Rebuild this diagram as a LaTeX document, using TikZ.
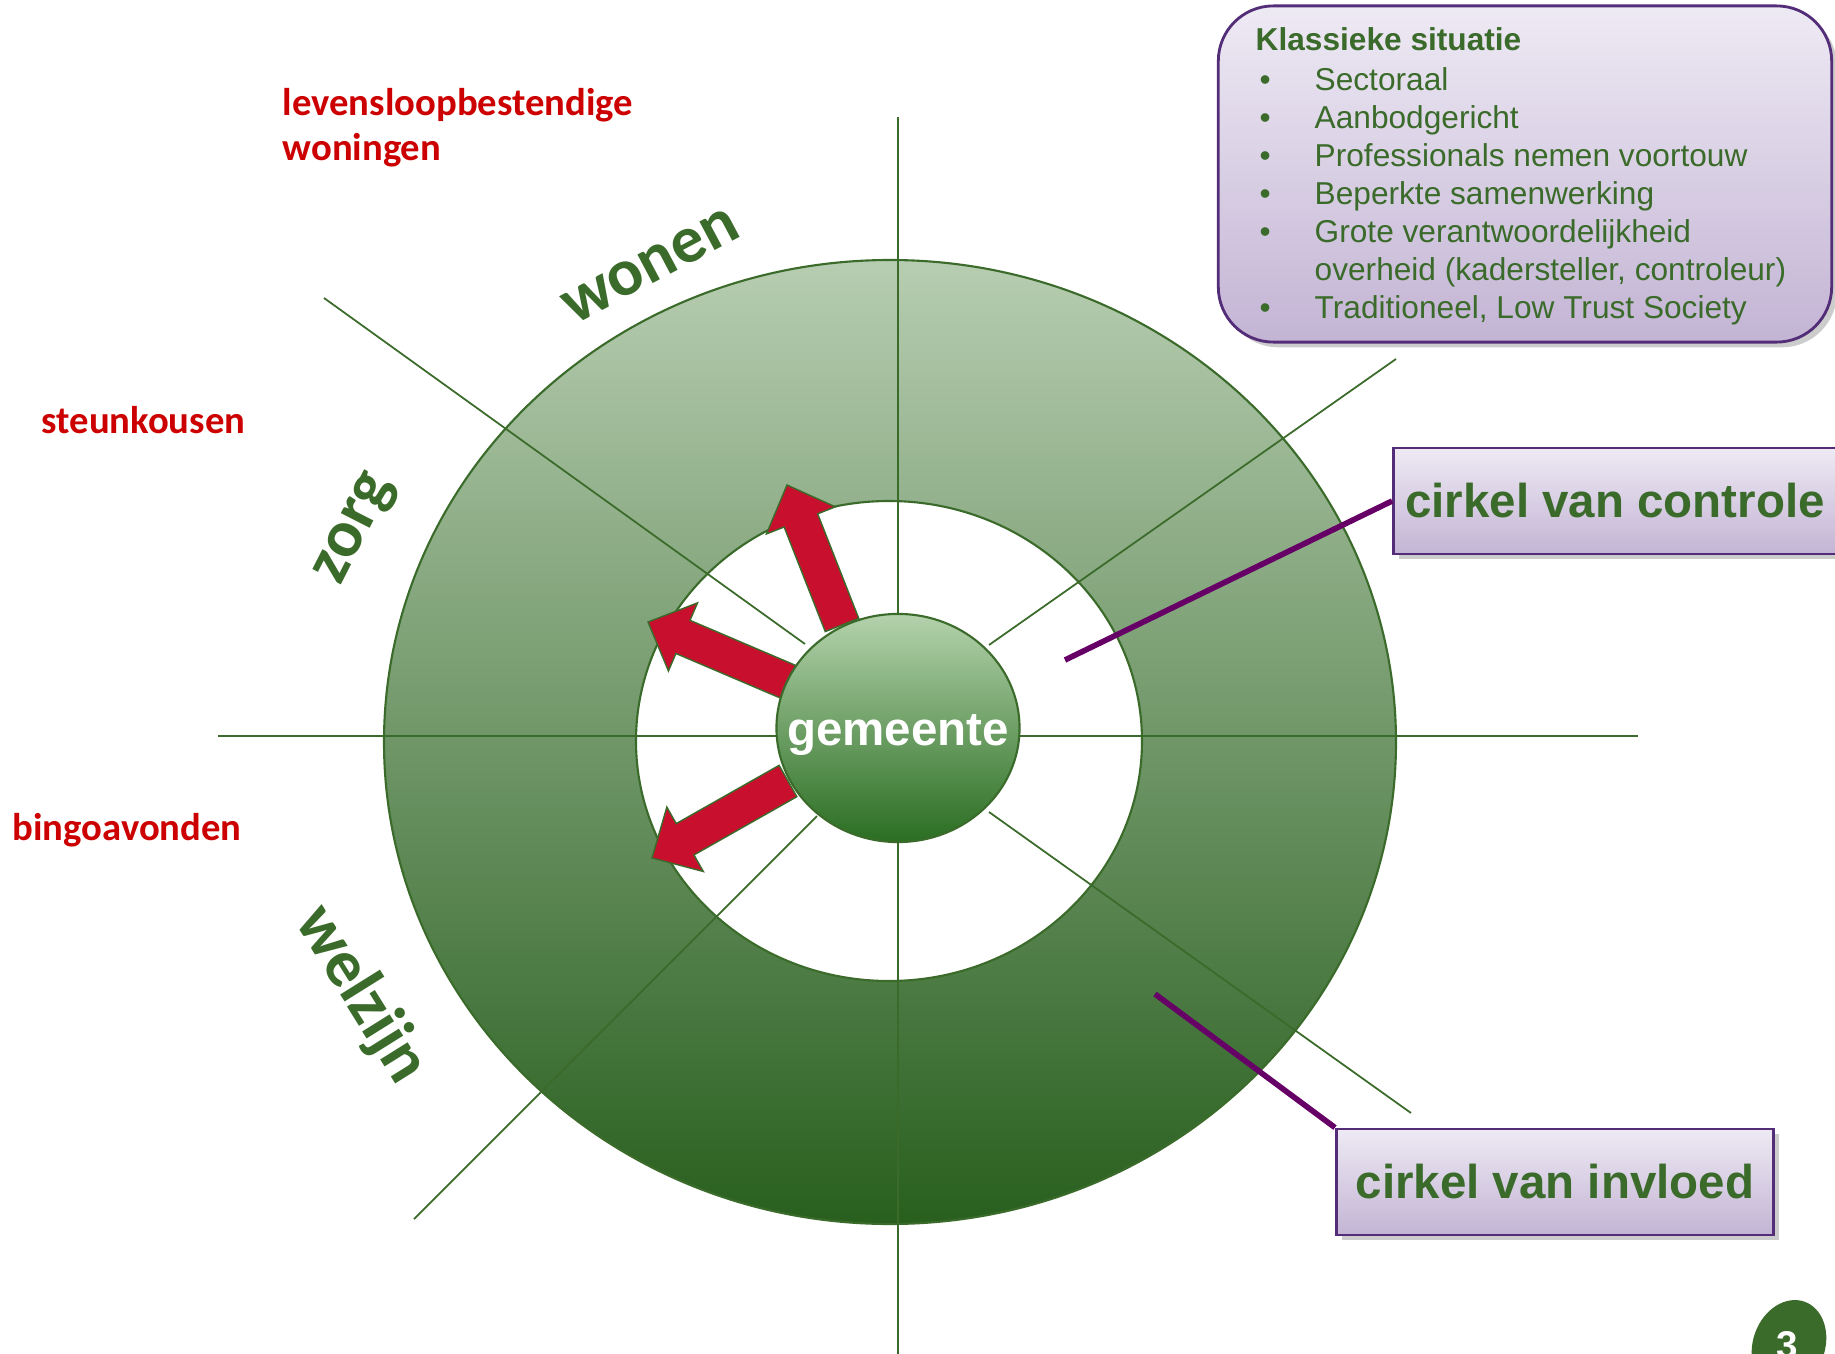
\documentclass[tikz,border=0pt]{standalone}
\usepackage{fontspec}
\setmainfont{Liberation Sans}
\newfontfamily\calibfont{Carlito}
\usepackage{tikz}
\usetikzlibrary{shapes,positioning,calc,shadows}

\definecolor{kgreen}{RGB}{59,107,42}
\definecolor{kred}{RGB}{204,0,0}
\definecolor{kpijl}{RGB}{200,16,46}
\definecolor{kpurple}{RGB}{84,45,120}
\definecolor{klijn}{RGB}{102,0,102}
\definecolor{ringtop}{RGB}{183,205,177}
\definecolor{ringmid}{RGB}{132,164,126}
\definecolor{ringbot}{RGB}{40,95,30}
\definecolor{bltop}{RGB}{180,210,172}
\definecolor{blmid}{RGB}{118,163,110}
\definecolor{blbot}{RGB}{42,110,34}
\definecolor{pstop}{RGB}{238,234,244}
\definecolor{psbot}{RGB}{195,180,212}

% red arrow from base #1 to tip #2
\newcommand{\redarrow}[2]{%
\coordinate (h) at ($(#2)!0.38cm!(#1)$);
\draw[pijl] ($(#1)!0.18cm!90:(#2)$) -- ($(h)!0.18cm!90:(#2)$) -- ($(h)!0.37cm!90:(#2)$)
  -- (#2) -- ($(h)!0.37cm!-90:(#2)$) -- ($(h)!0.18cm!-90:(#2)$) -- ($(#1)!0.18cm!-90:(#2)$) -- cycle;}

\begin{document}
\begin{tikzpicture}[x=0.01cm, y=-0.01cm]
\tikzstyle{as}=[kgreen, line width=0.5pt]
\tikzstyle{pijl}=[fill=kpijl, draw=kgreen, line width=0.4pt, line join=miter]
\tikzstyle{domein}=[font=\calibfont\bfseries\fontsize{19}{23}\selectfont, text=kgreen, inner sep=0]
\tikzstyle{voorbeeld}=[font=\calibfont\bfseries\fontsize{11}{12.8}\selectfont, text=kred, align=left, inner sep=0]
\tikzstyle{cirkel}=[draw=kpurple, line width=0.8pt, top color=pstop, bottom color=psbot,
  drop shadow={shadow xshift=1.5pt, shadow yshift=-1.5pt, opacity=0.2, fill=black},
  minimum width=4.37cm, minimum height=1.06cm, font=\bfseries\fontsize{13.5}{16}\selectfont, text=kgreen]
\tikzstyle{kader}=[draw=kpurple, line width=0.8pt, rounded corners=0.55cm, top color=pstop, bottom color=psbot,
  drop shadow={shadow xshift=1.5pt, shadow yshift=-1.5pt, opacity=0.2, fill=black},
  minimum width=6.13cm, minimum height=3.36cm]
\tikzstyle{item}=[font=\fontsize{9}{10.8}\selectfont, text=kgreen, inner sep=0, anchor=base west]
\tikzstyle{lijn}=[klijn, line width=1.6pt]

\useasboundingbox (0,0) rectangle (1835,1354);
\fill[white] (0,0) rectangle (1835,1354);

% ringen
\fill[top color=ringtop, middle color=ringmid, bottom color=ringbot, draw=kgreen, line width=0.6pt]
  (890,742) ellipse [x radius=506, y radius=482];
\filldraw[fill=white, draw=kgreen, line width=0.6pt] (889,741) ellipse [x radius=253, y radius=240];

% assen
\draw[as] (218,736) -- (1638,736);
\draw[as] (898,117) -- (898,1354);
\draw[as] (324,298) -- (805,644);
\draw[as] (1396,359) -- (989,645);
\draw[as] (989,812) -- (1411,1113);
\draw[as] (817,816) -- (414,1219);

% pijlen
\coordinate (a1) at (842,625); \coordinate (t1) at (787,485);
\coordinate (a2) at (791,683); \coordinate (t2) at (648,622);
\coordinate (a3) at (788,781); \coordinate (t3) at (652,858);
\redarrow{a1}{t1}
\redarrow{a2}{t2}
\redarrow{a3}{t3}

\node[ellipse, minimum width=2.43cm, minimum height=2.28cm, inner sep=0, draw=kgreen, line width=0.6pt,
  top color=bltop, middle color=blmid, bottom color=blbot] (0) at (898,728) {};
\node[anchor=base, font=\bfseries\fontsize{13.5}{16}\selectfont, text=white] (0a) at (898,745) {gemeente};

% domeinen
\node[domein, rotate=28] (4) at (651,266) {wonen};
\node[domein, rotate=63] (5) at (357,530) {zorg};
\node[domein, rotate=-58] (6) at (361,995) {welzijn};

\node[voorbeeld, anchor=north west] (7) at (282,88) {levensloopbestendige\\woningen};
\node[voorbeeld, anchor=base west] (8) at (41,433) {steunkousen};
\node[voorbeeld, anchor=base west] (9) at (12,840) {bingoavonden};

% kader rechtsboven
\node[kader] (1) at (1525,174) {};
\node[item, font=\bfseries\fontsize{9}{10.8}\selectfont] (1a) at (1255,50) {Klassieke situatie};
\foreach \bul/\txt [count=\i] in {\textbullet/Sectoraal, \textbullet/Aanbodgericht,
    \textbullet/Professionals nemen voortouw, \textbullet/Beperkte samenwerking,
    \textbullet/Grote verantwoordelijkheid, {}/{overheid (kadersteller, controleur)},
    \textbullet/{Traditioneel, Low Trust Society}}{
  \node[item] (b\i) at (1259,{90+38*(\i-1)}) {\bul};
  \node[item] (t\i) at (1314,{90+38*(\i-1)}) {\txt};
}

\node[cirkel] (2) at (1615,501) {cirkel van controle};
\node[cirkel] (3) at (1555,1182) {cirkel van invloed};

\coordinate (c1) at (1065,660);
\coordinate (c2) at (1155,994);
\draw[lijn] (c1) -- (2.west);
\draw[lijn] (c2) -- (3.north west);

% paginanummer
\begin{scope}
\clip (0,0) rectangle (1835,1354);
\fill[kgreen] (1789,1345) ellipse [x radius=36, y radius=46, rotate=-20];
\node[font=\bfseries\fontsize{11}{13}\selectfont, text=white] (10) at (1787,1345) {3};
\end{scope}

\end{tikzpicture}
\end{document}
